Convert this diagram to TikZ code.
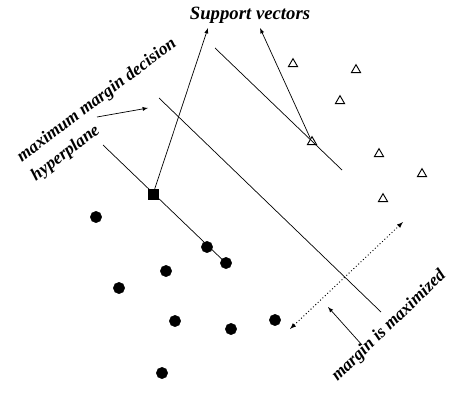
\documentclass[tikz,border=0pt]{standalone}
\usepackage{fontspec}
\setmainfont{Liberation Serif}
\usetikzlibrary{arrows}
\usetikzlibrary{shapes.geometric}

\begin{document}
\begin{tikzpicture}[x=0.03cm,y=-0.03cm,
  dot/.style={draw,circle,fill,inner sep=0pt,minimum size=0.34cm},
  sqdot/.style={draw,rectangle,fill,inner sep=0pt,minimum size=0.3cm},
  tri/.style={draw,thick,regular polygon,regular polygon sides=3,inner sep=0pt,minimum size=0.32cm},
  lbl/.style={font=\bfseries\itshape\fontsize{16}{20}\selectfont,inner sep=0pt}]
  \useasboundingbox (0,0) rectangle (455,392);

  \node[sqdot] (1) at (153,194){};
  \node[dot] (2) at (96,217){};
  \node[dot] (3) at (207,247){};
  \node[dot] (4) at (226,263){};
  \node[dot] (5) at (166,271){};
  \node[dot] (6) at (119,288){};
  \node[dot] (7) at (175,321){};
  \node[dot] (8) at (231,329){};
  \node[dot] (9) at (275,320){};
  \node[dot] (10) at (162,373){};

  \node[tri] (t1) at (293,64){};
  \node[tri] (t2) at (356,70){};
  \node[tri] (t3) at (340,101){};
  \node[tri] (t4) at (312,142){};
  \node[tri] (t5) at (379,154){};
  \node[tri] (t6) at (422,174){};
  \node[tri] (t7) at (383,199){};

  \node[lbl] (sv) at (250,15){Support vectors};
  \node[lbl,font=\bfseries\itshape\fontsize{15}{20}\selectfont,rotate=37,align=left] (mm) at (104,110){maximum margin decision\\hyperplane};
  \node[lbl,font=\bfseries\itshape\fontsize{15}{20}\selectfont,rotate=44] (mx) at (389,326){margin is maximized};

  \coordinate (a1) at (103,145);
  \coordinate (a2) at (230,267);
  \coordinate (b1) at (159,98);
  \coordinate (b2) at (381,312);
  \coordinate (c1) at (215,48);
  \coordinate (c2) at (342,170);
  \coordinate (s1) at (208,28);
  \coordinate (s2) at (260,28);
  \coordinate (h1) at (97,117);
  \coordinate (h2) at (148,108);
  \coordinate (m1) at (362,345);
  \coordinate (m2) at (328,307);
  \coordinate (d1) at (290,329);
  \coordinate (d2) at (403,222);

  \draw[semithick](a1)--(a2);
  \draw[semithick](b1)--(b2);
  \draw[semithick](c1)--(c2);
  \draw[semithick,-latex](1)--(s1);
  \draw[semithick,-latex](t4)--(s2);
  \draw[semithick,-latex](h1)--(h2);
  \draw[semithick,-latex](m1)--(m2);
  \draw[thick,dotted,latex-latex](d1)--(d2);
\end{tikzpicture}
\end{document}
